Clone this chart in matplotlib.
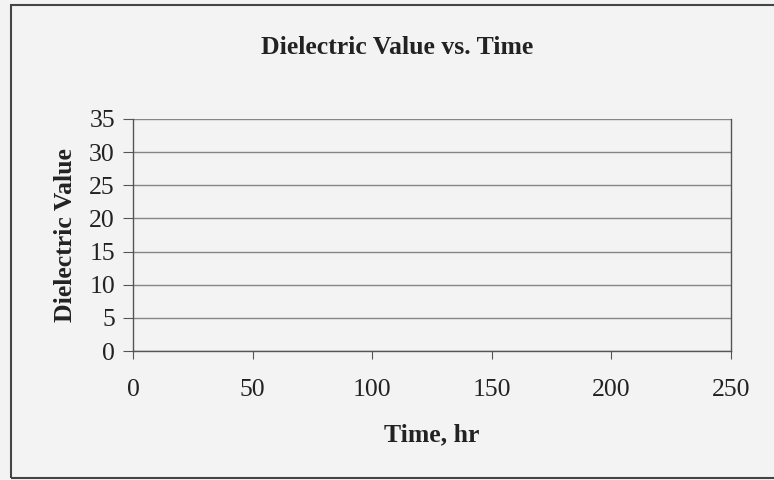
import matplotlib
matplotlib.use("Agg")
import matplotlib.pyplot as plt
from matplotlib.patches import Rectangle

# The reference chart has axes but no plotted series
time_hr = []
dielectric = []

x_ticks = [0, 50, 100, 150, 200, 250]
y_ticks = [0, 5, 10, 15, 20, 25, 30, 35]
title = "Dielectric Value vs. Time"
x_label = "Time, hr"
y_label = "Dielectric Value"

plt.rcParams.update({
    "font.family": ["Liberation Serif", "DejaVu Serif"],
    "font.size": 18.5,
})

BG = "#f3f3f3"
fig = plt.figure(figsize=(7.74, 4.8), dpi=100, facecolor=BG)
ax = fig.add_axes([133 / 774, 1 - 351 / 480, 598 / 774, 232 / 480])
ax.set_facecolor(BG)

ax.plot(time_hr, dielectric, color="black")

ax.set_xlim(x_ticks[0], x_ticks[-1])
ax.set_ylim(y_ticks[0], y_ticks[-1])
ax.set_xticks(x_ticks)
ax.set_yticks(y_ticks)

ax.grid(axis="y", color="#858585", linewidth=1.0)
ax.set_axisbelow(True)
for side in ["left", "bottom", "right"]:
    ax.spines[side].set_color("#555555")
    ax.spines[side].set_linewidth(1.0)
ax.spines["top"].set_visible(False)

ax.tick_params(axis="x", direction="out", length=6, width=0.8, color="#555555",
               pad=14, labelcolor="#222222")
ax.tick_params(axis="y", direction="out", length=7, width=0.8, color="#555555",
               pad=6, labelcolor="#222222")

ax.set_xlabel(x_label, fontweight="bold", labelpad=16, color="#222222")
ax.set_ylabel(y_label, fontweight="bold", labelpad=9, color="#222222")

fig.text(397 / 774, 1 - 48 / 480, title, ha="center", va="center",
         fontweight="bold", fontsize=18.5, color="#222222")

# chart area border
fig.patches.append(Rectangle((11 / 774, 2 / 480), 770 / 774, 473 / 480,
                             transform=fig.transFigure, fill=False,
                             edgecolor="#444444", linewidth=1.5))

fig.savefig("out.png", dpi=100, facecolor=BG)
